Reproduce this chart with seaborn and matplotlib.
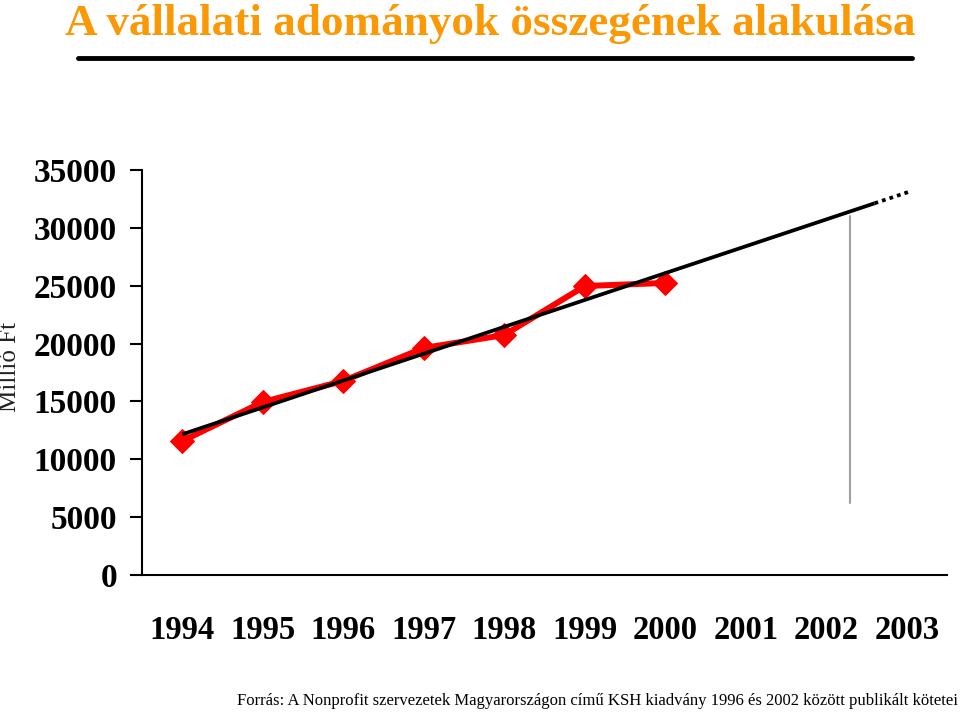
import matplotlib
matplotlib.use("Agg")
import matplotlib.pyplot as plt
import seaborn as sns
import numpy as np
import pandas as pd

years = ["1994", "1995", "1996", "1997", "1998", "1999", "2000", "2001", "2002", "2003"]
data_years = ["1994", "1995", "1996", "1997", "1998", "1999", "2000"]
values = [11580, 14950, 16770, 19620, 20740, 24970, 25240]
y_ticks = [0, 5000, 10000, 15000, 20000, 25000, 30000, 35000]
title = "A vállalati adományok összegének alakulása"
ylabel = "Millió Ft"
source = "Forrás: A Nonprofit szervezetek Magyarországon című KSH kiadvány 1996 és 2002 között publikált kötetei"

sns.set_theme(style="white")
plt.rcParams['font.family'] = ['Liberation Serif', 'DejaVu Serif']
plt.rcParams['text.color'] = 'black'
plt.rcParams['xtick.color'] = 'black'
plt.rcParams['ytick.color'] = 'black'

fig = plt.figure(figsize=(9.6, 7.12), dpi=100)
ax = fig.add_axes([142/960, 1-575/712, (947-142)/960, (575-170)/712])

df = pd.DataFrame({"pos": [years.index(y) for y in data_years], "value": values})

# trend line (linear fit), solid part then dotted forecast
slope, intercept = np.polyfit(df["pos"], df["value"], 1)
xs_solid = np.array([0, 8.6])
xs_dot = np.array([8.6, 9.05])
ax.plot(xs_solid, slope*xs_solid + intercept, color="black", lw=2.7, zorder=3, solid_capstyle="butt")
ax.plot(xs_dot, slope*xs_dot + intercept, color="black", lw=2.7, ls=(0, (1, 1.1)), zorder=3)

sns.lineplot(data=df, x="pos", y="value", ax=ax, color="#ff0000", lw=4.3,
             marker="D", markersize=12.5, markeredgecolor="#ff0000", zorder=2)

# gray vertical artifact line
ax.plot([8.3, 8.3], [6200, 31000], color="#a0a0a0", lw=1.5, zorder=1)

ax.set_xlim(-0.5, 9.5)
ax.set_ylim(0, 35000)
ax.set_xticks(range(len(years)))
ax.set_xticklabels(years, fontsize=23.5, fontweight="bold")
ax.set_xticks(np.arange(-0.5, 10, 1), minor=True)
ax.tick_params(axis="x", which="major", length=0, pad=29)
ax.tick_params(axis="x", which="minor", length=10, width=1.5, color="black", direction="out")
ax.set_yticks(y_ticks)
ax.set_yticklabels([str(v) for v in y_ticks], fontsize=24, fontweight="bold")
ax.tick_params(axis="y", length=9, width=1.5, color="black", direction="out", pad=9, left=True)
for s in ["top", "right"]:
    ax.spines[s].set_visible(False)
for s in ["left", "bottom"]:
    ax.spines[s].set_color("black")
    ax.spines[s].set_linewidth(1.5)
ax.set_xlabel("")
ax.set_ylabel("")

fig.text(10/960, 1-367/712, ylabel, rotation=90, fontsize=18, ha="center", va="center", color="#222222")
fig.text(490/960, 1-35/712, title, fontsize=32.5, fontweight="bold", color="#fa9805",
         ha="center", va="baseline")
fig.add_artist(plt.Line2D([78/960, 912/960], [1-58/712, 1-58/712], color="black", lw=3.5))
fig.text(958/960, 1-701/712, source, fontsize=12, ha="right", va="center", color="black")

fig.savefig("out.png", dpi=100)
